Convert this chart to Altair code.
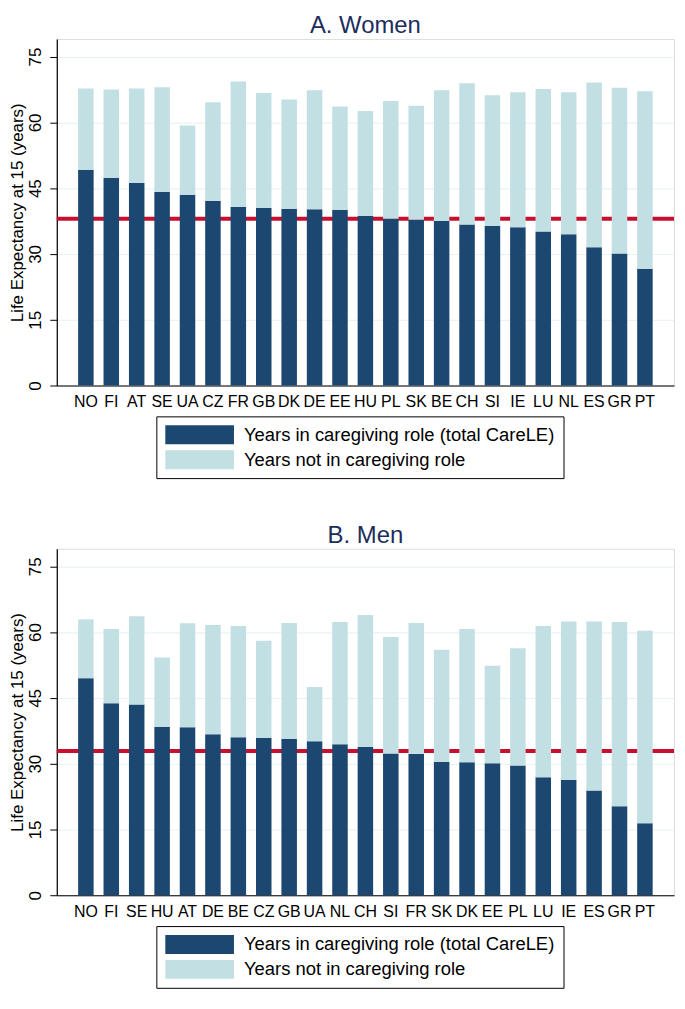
import altair as alt
import pandas as pd

FONT = "Liberation Sans"
DARK = "#1b4770"
LIGHT = "#c2dfe3"
RED = "#c8102e"
TITLE_COLOR = "#1c2d5c"

LABEL_CARE = "Years in caregiving role (total CareLE)"
LABEL_NOT = "Years not in caregiving role"

women_countries = ["NO", "FI", "AT", "SE", "UA", "CZ", "FR", "GB", "DK", "DE", "EE", "HU",
                   "PL", "SK", "BE", "CH", "SI", "IE", "LU", "NL", "ES", "GR", "PT"]
women_total = [67.7, 67.5, 67.7, 68.0, 59.3, 64.6, 69.3, 66.7, 65.2, 67.3, 63.6, 62.6,
               64.9, 63.8, 67.3, 68.9, 66.2, 66.9, 67.6, 66.9, 69.1, 67.9, 67.1]
women_care = [49.2, 47.4, 46.2, 44.1, 43.5, 42.1, 40.7, 40.5, 40.3, 40.2, 40.1, 38.7,
              38.0, 37.8, 37.5, 36.7, 36.4, 36.1, 35.1, 34.5, 31.5, 30.1, 26.6]
women_ref = [38.0]

men_countries = ["NO", "FI", "SE", "HU", "AT", "DE", "BE", "CZ", "GB", "UA", "NL", "CH",
                 "SI", "FR", "SK", "DK", "EE", "PL", "LU", "IE", "ES", "GR", "PT"]
men_total = [62.9, 60.7, 63.6, 54.2, 62.0, 61.6, 61.4, 58.0, 62.1, 47.5, 62.3, 63.9,
             58.9, 62.1, 56.0, 60.7, 52.3, 56.3, 61.4, 62.4, 62.4, 62.3, 60.3]
men_care = [49.5, 43.8, 43.5, 38.4, 38.3, 36.7, 36.0, 35.9, 35.7, 35.1, 34.4, 33.8,
            32.3, 32.2, 30.4, 30.3, 30.1, 29.6, 26.9, 26.3, 23.9, 20.3, 16.4]
men_ref = [32.9]

y_ticks = [0, 15, 30, 45, 60, 75]

W = 620
H = 348


def panel(title, countries, total, care, ref):
    rows = []
    for c, t, k in zip(countries, total, care):
        rows.append({"country": c, "series": LABEL_CARE, "years": k, "ord": 0})
        rows.append({"country": c, "series": LABEL_NOT, "years": round(t - k, 2), "ord": 1})
    df = pd.DataFrame(rows)
    ref_df = pd.DataFrame({"ref": ref})

    x = alt.X("country:N", sort=countries, title=None,
              scale=alt.Scale(paddingInner=0.39, paddingOuter=0.84),
              axis=alt.Axis(labelAngle=0, labelFontSize=16, labelFont=FONT, labelColor="black",
                            ticks=False, labelPadding=8, domainColor="black", domainWidth=1.2,
                            grid=False))
    yscale = alt.Scale(domain=[0, 79], nice=False, zero=True)

    rule = alt.Chart(ref_df).mark_rule(color=RED, strokeWidth=4).encode(
        y=alt.Y("ref:Q", scale=yscale,
                axis=alt.Axis(values=y_ticks, title="Life Expectancy at 15 (years)",
                              titleFontSize=17, titleFont=FONT, titleFontWeight="normal",
                              titleColor="black", titlePadding=0,
                              labelFontSize=17, labelFont=FONT, labelColor="black",
                              labelAngle=270, labelPadding=5, tickSize=7, tickColor="black",
                              domainColor="black", domainWidth=1.2,
                              grid=True, gridColor="#e7f0f2", gridWidth=1))
    )

    bars = alt.Chart(df).mark_bar().encode(
        x=x,
        y=alt.Y("years:Q", stack="zero", scale=yscale),
        color=alt.Color("series:N",
                        scale=alt.Scale(domain=[LABEL_CARE, LABEL_NOT], range=[DARK, LIGHT]),
                        legend=alt.Legend(title=None, orient="none", legendX=100, legendY=H + 31,
                                          direction="vertical",
                                          symbolType="M-3.63,-1H3.63V1H-3.63Z", symbolSize=361,
                                          symbolOffset=25,
                                          symbolStrokeWidth=0, symbolOpacity=1,
                                          labelFontSize=18.5, labelFont=FONT, labelColor="black",
                                          labelOffset=35, labelLimit=500,
                                          strokeColor="black", padding=9, rowPadding=6,
                                          fillColor="white")),
        order=alt.Order("ord:Q", sort="ascending"),
    )

    return alt.layer(rule, bars).properties(
        width=W, height=H,
        title=alt.TitleParams(text=title, fontSize=24, font=FONT, fontWeight="normal",
                              color=TITLE_COLOR, anchor="middle", frame="group", offset=1),
    )


top = panel("A. Women", women_countries, women_total, women_care, women_ref)
bottom = panel("B. Men", men_countries, men_total, men_care, men_ref)

chart = alt.vconcat(top, bottom, spacing=44).resolve_scale(
    color="independent", x="independent", y="independent"
).properties(
    padding={"top": 3, "left": 0, "right": 0, "bottom": 0}
).configure_view(strokeWidth=0).configure(font=FONT)

chart.save("out.html", embed_options={"renderer": "svg", "actions": False})
